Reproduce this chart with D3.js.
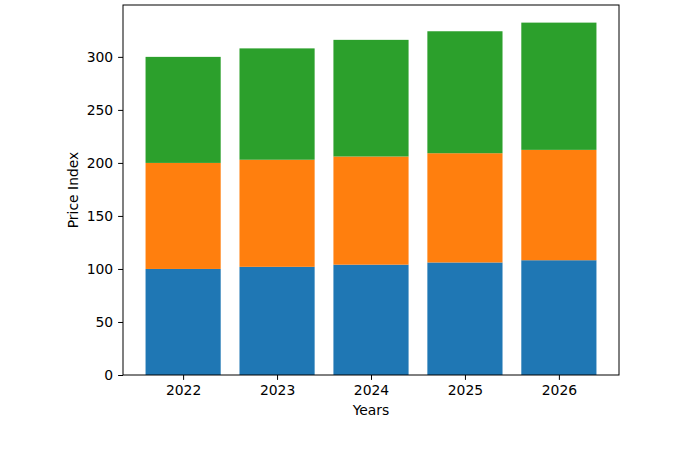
<!DOCTYPE html>
<html>
<head>
<meta charset="utf-8">
<script src="https://cdn.jsdelivr.net/npm/d3@7"></script>
<style>
  body { margin: 0; background: #fff; }
  text { font-family: "DejaVu Sans", sans-serif; }
</style>
</head>
<body>
<div id="chart"></div>
<script>
// data
var years = ["2022", "2023", "2024", "2025", "2026"];
var seriesA = [100, 102, 104.04, 106.12, 108.24];
var seriesB = [100, 101, 102.01, 103.03, 104.06];
var seriesC = [100, 105, 110, 115, 120];
var colors = ["#1f77b4", "#ff7f0e", "#2ca02c"];
var yTicks = [0, 50, 100, 150, 200, 250, 300];

var svgwidth = 700, svgheight = 450;
var margin = {top: 5, bottom: 75, left: 123, right: 81};
var width = svgwidth - margin.left - margin.right;
var height = svgheight - margin.top - margin.bottom;

var svg = d3.select("#chart").append("svg").attr("width", svgwidth).attr("height", svgheight);
var chartgp = svg.append("g").attr("transform", `translate(${margin.left}, ${margin.top})`);

var rows = years.map(function(y, i) {
    return {year: y, i: i, a: seriesA[i], b: seriesB[i], c: seriesC[i]};
});
var stacked = d3.stack().keys(["a", "b", "c"])(rows);
var maxTotal = d3.max(rows, d => d.a + d.b + d.c);

var xscale = d3.scaleLinear().domain([-0.64, years.length - 1 + 0.64]).range([0, width]);
var yscale = d3.scaleLinear().domain([0, maxTotal * 1.05]).range([height, 0]);
var barw = xscale(0.8) - xscale(0);

stacked.forEach(function(layer, k) {
    chartgp.append("g").selectAll("rect").data(layer).enter().append("rect")
        .attr("x", d => xscale(d.data.i) - barw / 2)
        .attr("width", barw)
        .attr("y", d => yscale(d[1]))
        .attr("height", d => yscale(d[0]) - yscale(d[1]))
        .attr("fill", colors[k]);
});

var axisbottom = d3.axisBottom(xscale).tickValues(d3.range(years.length)).tickFormat(i => years[i]).tickSizeOuter(0).tickSize(4.9).tickPadding(4.9);
var axisleft = d3.axisLeft(yscale).tickValues(yTicks).tickSizeOuter(0).tickSize(4.9).tickPadding(4.9);

var gx = chartgp.append("g").attr("transform", `translate(0, ${height})`).call(axisbottom);
var gy = chartgp.append("g").call(axisleft);
[gx, gy].forEach(function(g) {
    g.select(".domain").remove();
    g.selectAll("text").attr("font-size", "13.9px").attr("fill", "#000").attr("font-family", "DejaVu Sans");
    g.selectAll("line").attr("stroke", "#000").attr("stroke-width", 1);
});

// axes frame
chartgp.append("rect").attr("x", 0).attr("y", 0).attr("width", width).attr("height", height)
    .attr("fill", "none").attr("stroke", "#000").attr("stroke-width", 1);

chartgp.append("text").attr("transform", "rotate(-90)").attr("x", -height / 2).attr("y", -45)
    .attr("text-anchor", "middle").attr("font-size", "13.9px").text("Price Index");
chartgp.append("text").attr("x", width / 2).attr("y", height + 40)
    .attr("text-anchor", "middle").attr("font-size", "13.9px").text("Years");
</script>
</body>
</html>
